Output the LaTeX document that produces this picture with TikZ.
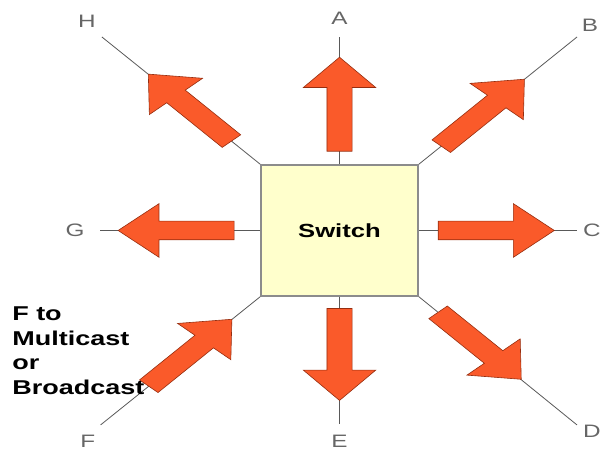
\documentclass[tikz,border=0pt]{standalone}
\usepackage{fontspec}
\setmainfont{Liberation Sans}
\usepackage{tikz}
\usetikzlibrary{shapes.arrows, calc}
\definecolor{arroworange}{RGB}{250, 90, 42}
\definecolor{arrowedge}{RGB}{150, 45, 15}
\definecolor{switchfill}{RGB}{255, 255, 204}

\begin{document}
\begin{tikzpicture}[x=1pt, y=-1pt, xscale=1.35, transform shape,
  switchbox/.style={rectangle, draw=black!45, line width=1.5pt,
    fill=switchfill, minimum width=116pt, minimum height=131pt,
    inner sep=0pt, font=\fontsize{19}{22}\selectfont\bfseries},
  blockarrow/.style={single arrow, fill=arroworange, draw=arrowedge,
    line width=0.6pt, minimum width=53pt, single arrow head extend=17.5pt,
    single arrow tip angle=83, inner xsep=0pt, inner ysep=9pt,
    anchor=tail},
  wire/.style={draw=black!65, line width=0.8pt},
  lbl/.style={text=black!60, inner sep=0pt,
    font=\fontsize{18}{20}\selectfont},
  note/.style={align=left, inner sep=0pt,
    font=\fontsize{20}{24.5}\selectfont\bfseries}
]
  \useasboundingbox (0,0) rectangle (446,452);

  \node[switchbox] (sw) at (251.5,230.5) {Switch};

  \coordinate (eA) at (251.5,37);
  \coordinate (eB) at (427.4,37);
  \coordinate (eC) at (427.4,230.5);
  \coordinate (eD) at (427.4,425);
  \coordinate (eE) at (251.5,424);
  \coordinate (eF) at (74.5,425);
  \coordinate (eG) at (74.1,230.5);
  \coordinate (eH) at (75.5,37);

  \draw[wire] (sw.north) -- (eA);
  \draw[wire] (sw.north east) -- (eB);
  \draw[wire] (sw.east) -- (eC);
  \draw[wire] (sw.south east) -- (eD);
  \draw[wire] (sw.south) -- (eE);
  \draw[wire] (sw.south west) -- (eF);
  \draw[wire] (sw.west) -- (eG);
  \draw[wire] (sw.north west) -- (eH);

  \node[blockarrow, minimum height=94pt, rotate=90] (arA)
    at ($(sw.north)!0.10!(eA)$) {};
  \node[blockarrow, minimum height=91pt, rotate=47.4] (arB)
    at ($(sw.north east)!0.14!(eB)$) {};
  \node[blockarrow, minimum height=86pt] (arC)
    at ($(sw.east)!0.12!(eC)$) {};
  \node[blockarrow, minimum height=91pt, rotate=-47.4] (arD)
    at ($(sw.south east)!0.12!(eD)$) {};
  \node[blockarrow, minimum height=92pt, rotate=-90] (arE)
    at ($(sw.south)!0.09!(eE)$) {};
  \node[blockarrow, minimum height=91pt, rotate=47.4] (arF)
    at ($(eF)!0.30!(sw.south west)$) {};
  \node[blockarrow, minimum height=86pt, rotate=180] (arG)
    at ($(sw.west)!0.16!(eG)$) {};
  \node[blockarrow, minimum height=91pt, rotate=132.6] (arH)
    at ($(sw.north west)!0.18!(eH)$) {};

  \node[lbl] (A) at (251.5,18) {A};
  \node[lbl] (B) at (437,25) {B};
  \node[lbl] (C) at (438.5,230.5) {C};
  \node[lbl] (D) at (438.5,431) {D};
  \node[lbl] (E) at (251.5,441) {E};
  \node[lbl] (F) at (65,441) {F};
  \node[lbl] (G) at (55.6,230.5) {G};
  \node[lbl] (H) at (64.4,21) {H};

  \node[note, anchor=west] (fnote) at (8.9,351) {F to\\Multicast\\or\\Broadcast};
\end{tikzpicture}
\end{document}
